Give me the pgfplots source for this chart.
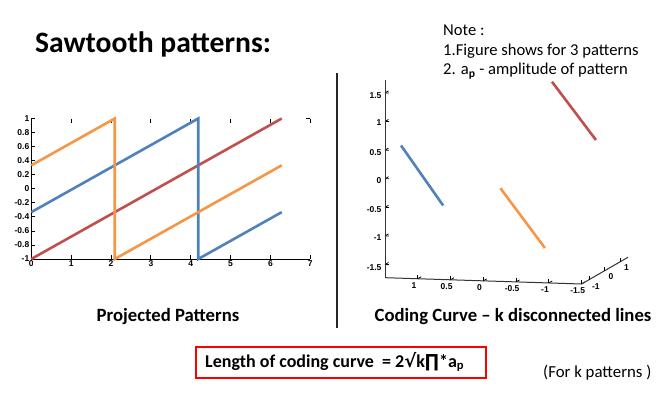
\documentclass[border=0pt]{standalone}
\usepackage{fontspec}
\setmainfont{Carlito}
\newfontfamily\tickfont{Liberation Sans}
\newfontfamily\symfont{DejaVu Sans}
\usepackage{pgfplots}
\pgfplotsset{compat=1.18}
\definecolor{cred}{RGB}{192,80,77}
\definecolor{corange}{RGB}{247,150,70}
\definecolor{cblue}{RGB}{79,129,189}
\pgfplotsset{
  cube3d/.style={
    at={(385pt,-284pt)}, anchor=south west,
    scale only axis, width=243pt, height=231pt,
    view={13.3}{7.9},
    ymin=-1.5, ymax=1.5, zmin=-1.73, zmax=1.73,
    axis lines=left,
    axis line style={-, black!80, line width=1pt},
    tick align=inside,
    tick style={black, line width=0.8pt}, major tick length=4pt,
    tick label style={font=\tickfont\bfseries\fontsize{8.5}{9}\selectfont},
    /pgf/number format/assume math mode=true,
    clip=false,
  },
}
\begin{document}
\begin{tikzpicture}
\path[use as bounding box, fill=white] (0,0) rectangle (658pt,-393pt);
% texts
\node[anchor=base west, inner sep=0, font=\bfseries\fontsize{29.6}{34}\selectfont] at (35pt,-53pt) {Sawtooth patterns:};
\node[anchor=base west, inner sep=0, font=\fontsize{16.6}{19.5}\selectfont] at (443pt,-36pt) {Note :};
\node[anchor=base west, inner sep=0, font=\fontsize{16.6}{19.5}\selectfont] at (443pt,-55.5pt) {1.Figure shows for 3 patterns};
\node[anchor=base west, inner sep=0, font=\fontsize{16.6}{19.5}\selectfont] at (443pt,-75pt) {2. a\textsubscript{\textbf{p}} - amplitude of pattern};
\node[anchor=base, inner sep=0, font=\bfseries\fontsize{18.7}{22}\selectfont] at (168pt,-321.5pt) {Projected Patterns};
\node[anchor=base, inner sep=0, font=\bfseries\fontsize{18.7}{22}\selectfont] at (513pt,-321.5pt) {Coding Curve – k disconnected lines};
\draw[line width=1.2pt, black!85] (337pt,-73pt) -- (337pt,-328pt);
\draw[red, line width=2pt] (196pt,-347pt) rectangle (486pt,-378pt);
\node[anchor=base west, inner sep=0, font=\bfseries\fontsize{18}{20}\selectfont] at (205pt,-367pt) {Length of coding curve\ \ = 2{\symfont √}k{\symfont ∏}*a\textsubscript{p}};
\node[anchor=base west, inner sep=0, font=\fontsize{16.8}{19.5}\selectfont] at (543pt,-377pt) {(For k patterns )};

% left 2D axis
\begin{axis}[
  at={(31.3pt,-259pt)}, anchor=south west,
  scale only axis, width=279pt, height=140.5pt,
  xmin=0, xmax=7, ymin=-1, ymax=1,
  xtick={0,1,2,3,4,5,6,7},
  ytick={-1,-0.8,-0.6,-0.4,-0.2,0,0.2,0.4,0.6,0.8,1},
  xtick pos=both, ytick pos=left,
  tick align=inside, major tick length=4pt,
  axis line style={draw=none},
  tick style={black, line width=0.8pt},
  tick label style={font=\tickfont\bfseries\fontsize{8.5}{9}\selectfont},
  /pgf/number format/assume math mode=true,
  yticklabel style={xshift=1.5pt},
  xticklabel style={yshift=1.5pt},
  clip=false,
]
\draw[black, line width=1pt] (rel axis cs:0,1) -- (rel axis cs:0,0) -- (rel axis cs:1,0);
\draw[black, line width=0.8pt] (rel axis cs:1,1) -- ++(-4pt,0pt);
\addplot[cred, line width=2.6pt] coordinates {(0,-1) (6.2832,1)};
\addplot[cblue, line width=2.6pt] coordinates {(0,-0.3333) (4.1888,1) (4.1888,-1) (6.2832,-0.3333)};
\addplot[corange, line width=2.6pt] coordinates {(0,0.3333) (2.0944,1) (2.0944,-1) (6.2832,0.3333)};
\end{axis}

% right 3D: data, x axis and y axis (x reversed)
\begin{axis}[cube3d,
  x dir=reverse, xmin=-1.5, xmax=1.5,
  xtick={-1.5,-1,-0.5,0,0.5,1}, ytick={-1,0,1},
  hide z axis,
]
\addplot3[cred, line width=2.6pt] coordinates {(-1.47,-0.44,0.62) (-0.59,0.44,1.47)};
\addplot3[cblue, line width=2.6pt] coordinates {(0.62,-1.47,-0.44) (1.47,-0.59,0.44)};
\addplot3[corange, line width=2.6pt] coordinates {(-0.44,0.62,-1.47) (0.44,1.47,-0.59)};
\end{axis}
% right 3D: z axis (same geometry, mirrored x coordinate)
\begin{axis}[cube3d,
  xmin=-1.5, xmax=1.5,
  xtick=\empty, ytick=\empty,
  x axis line style={draw=none}, y axis line style={draw=none},
  ztick={-1.5,-1,-0.5,0,0.5,1,1.5},
]
\end{axis}
% left vertical edge of the 3D box (z axis line)
\draw[black!80, line width=1pt] (385.5pt,-277pt) -- (385.5pt,-81pt);
\end{tikzpicture}
\end{document}
